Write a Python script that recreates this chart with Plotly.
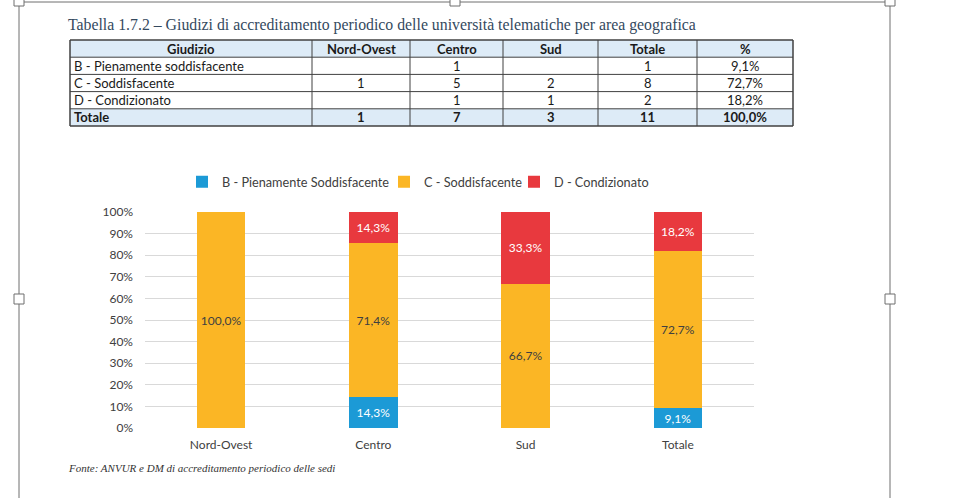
import plotly.graph_objects as go

W, H = 964, 498

# ---- data ----
categories = ["Nord-Ovest", "Centro", "Sud", "Totale"]
series_names = ["B - Pienamente Soddisfacente", "C - Soddisfacente", "D - Condizionato"]
pct_B = [0, 14.3, 0, 9.1]
pct_C = [100.0, 71.4, 66.7, 72.7]
pct_D = [0, 14.3, 33.3, 18.2]
colors = ["#1c9ad6", "#fbb625", "#e8393e"]
label_colors = ["#ffffff", "#404040", "#ffffff"]
y_ticks = [0, 10, 20, 30, 40, 50, 60, 70, 80, 90, 100]

table_header = ["Giudizio", "Nord-Ovest", "Centro", "Sud", "Totale", "%"]
table_giudizio = ["B - Pienamente soddisfacente", "C - Soddisfacente", "D - Condizionato", "Totale"]
table_nord_ovest = ["", "1", "", "1"]
table_centro = ["1", "5", "1", "7"]
table_sud = ["", "2", "1", "3"]
table_totale = ["1", "8", "2", "11"]
table_pct = ["9,1%", "72,7%", "18,2%", "100,0%"]

title_text = "Tabella 1.7.2 – Giudizi di accreditamento periodico delle università telematiche per area geografica"
source_text = "Fonte: ANVUR e DM di accreditamento periodico delle sedi"

FONT = "Lato"
SERIF = "Liberation Serif"

# layout constants (pixels)
TABLE_COL_EDGES = [70, 312, 410, 503, 598, 697, 793]
TABLE_TOP = 40
TABLE_ROW_H = 17.2
LEGEND_TEXT_X = [222, 424, 554]   # where each legend entry's text begins
LEGEND_Y = 182


def px_x(x):
    return x / W


def px_y(y):
    return 1 - y / H


fig = go.Figure()
legend_ids = ["legend", "legend2", "legend3"]

# ---- stacked bars ----
for name, vals, col, lc, lg in zip(series_names, [pct_B, pct_C, pct_D], colors,
                                   label_colors, legend_ids):
    fig.add_trace(go.Bar(
        x=categories, y=vals, name=name, legend=lg,
        marker=dict(color=col, line=dict(width=0)),
        text=[(f"{v:.1f}%".replace(".", ",") if v else "") for v in vals],
        textposition="inside", insidetextanchor="middle", textangle=0,
        constraintext="none",
        textfont=dict(family=FONT, size=12, color=lc),
        hoverinfo="skip",
    ))

legend_common = dict(orientation="h", xanchor="left", yanchor="middle",
                     font=dict(family=FONT, size=12.7, color="#404040"),
                     itemwidth=30, bgcolor="rgba(0,0,0,0)", borderwidth=0)
legends = {}
for lg, tx in zip(legend_ids, LEGEND_TEXT_X):
    legends[lg] = dict(legend_common, x=px_x(tx - 40), y=px_y(LEGEND_Y))

fig.update_layout(
    width=W, height=H,
    margin=dict(l=0, r=0, t=0, b=0, pad=0, autoexpand=False),
    paper_bgcolor="white", plot_bgcolor="white",
    barmode="stack", bargap=0.68,
    separators=",.",
    font=dict(family=FONT, size=12, color="#404040"),
    showlegend=True,
    xaxis=dict(domain=[px_x(145), px_x(754)], showgrid=False, showline=False,
               ticks="", ticklabelstandoff=8, automargin=False,
               tickfont=dict(family=FONT, size=12, color="#404040"),
               fixedrange=True),
    yaxis=dict(domain=[px_y(428), px_y(212)], range=[0, 100],
               tickvals=y_ticks, ticktext=[f"{t}%" for t in y_ticks],
               showgrid=True, gridcolor="#d9d9d9", gridwidth=1,
               zeroline=False, showline=False, ticks="",
               ticklabelstandoff=11, automargin=False,
               tickfont=dict(family=FONT, size=12, color="#404040"),
               fixedrange=True),
    **legends,
)

# ---- table (drawn with shapes + text) ----
blue_fill = "#ddebf7"
line_c = "#404040"
cols = [table_giudizio, table_nord_ovest, table_centro, table_sud, table_totale, table_pct]
n_rows = len(table_giudizio) + 1
row_edges = [TABLE_TOP + i * TABLE_ROW_H for i in range(n_rows + 1)]
x0, x1 = TABLE_COL_EDGES[0], TABLE_COL_EDGES[-1]

for r in (0, n_rows - 1):
    fig.add_shape(type="rect", xref="paper", yref="paper", layer="below",
                  x0=px_x(x0), x1=px_x(x1), y0=px_y(row_edges[r + 1]), y1=px_y(row_edges[r]),
                  fillcolor=blue_fill, line=dict(width=0))
for i, ye in enumerate(row_edges):
    fig.add_shape(type="line", xref="paper", yref="paper",
                  x0=px_x(x0), x1=px_x(x1), y0=px_y(ye), y1=px_y(ye),
                  line=dict(color=line_c, width=1.5 if i in (0, n_rows) else 1))
for i, xe in enumerate(TABLE_COL_EDGES):
    fig.add_shape(type="line", xref="paper", yref="paper",
                  x0=px_x(xe), x1=px_x(xe), y0=px_y(row_edges[0]), y1=px_y(row_edges[-1]),
                  line=dict(color=line_c, width=1.5 if i in (0, len(TABLE_COL_EDGES) - 1) else 1))
for c, (head, col) in enumerate(zip(table_header, cols)):
    cx = (TABLE_COL_EDGES[c] + TABLE_COL_EDGES[c + 1]) / 2
    fig.add_annotation(xref="paper", yref="paper", x=px_x(cx),
                       y=px_y((row_edges[0] + row_edges[1]) / 2),
                       xanchor="center", yanchor="middle", showarrow=False,
                       text=f"<b>{head}</b>",
                       font=dict(family=FONT, size=13, color="#1a1a1a"))
    for r, val in enumerate(col):
        if val == "":
            continue
        is_total = r == len(col) - 1
        yc = (row_edges[r + 1] + row_edges[r + 2]) / 2
        if c == 0:
            xa, anchor = TABLE_COL_EDGES[0] + 2, "left"
        else:
            xa, anchor = cx, "center"
        fig.add_annotation(xref="paper", yref="paper", x=px_x(xa), y=px_y(yc),
                           xanchor=anchor, yanchor="middle", showarrow=False,
                           text=f"<b>{val}</b>" if is_total else val,
                           font=dict(family=FONT, size=13, color="#1a1a1a"))

# ---- title and source ----
fig.add_annotation(xref="paper", yref="paper", x=px_x(66), y=px_y(25),
                   xanchor="left", yanchor="middle", showarrow=False,
                   text=title_text,
                   font=dict(family=SERIF, size=15.8, color="#34495e"))
fig.add_annotation(xref="paper", yref="paper", x=px_x(66), y=px_y(468),
                   xanchor="left", yanchor="middle", showarrow=False,
                   text=f"<i>{source_text}</i>",
                   font=dict(family=SERIF, size=11, color="#333333"))

# ---- page frame and handles ----
frame = dict(color="#6e6e6e", width=1)
fig.add_shape(type="line", xref="paper", yref="paper",
              x0=px_x(19), x1=px_x(890), y0=px_y(2), y1=px_y(2), line=frame)
fig.add_shape(type="line", xref="paper", yref="paper",
              x0=px_x(19), x1=px_x(19), y0=px_y(2), y1=px_y(498), line=frame)
fig.add_shape(type="line", xref="paper", yref="paper",
              x0=px_x(890), x1=px_x(890), y0=px_y(2), y1=px_y(498), line=frame)
for hx, hy in [(19, 1), (455, 1), (890, 1), (19, 299), (890, 299)]:
    fig.add_shape(type="rect", xref="paper", yref="paper",
                  x0=px_x(hx - 5), x1=px_x(hx + 5), y0=px_y(hy - 5), y1=px_y(hy + 5),
                  line=dict(color="#6e6e6e", width=1), fillcolor="white")

fig.write_html("out.html", config={"displayModeBar": False},
               post_script="document.body.style.margin='0';document.body.style.overflow='hidden';")
